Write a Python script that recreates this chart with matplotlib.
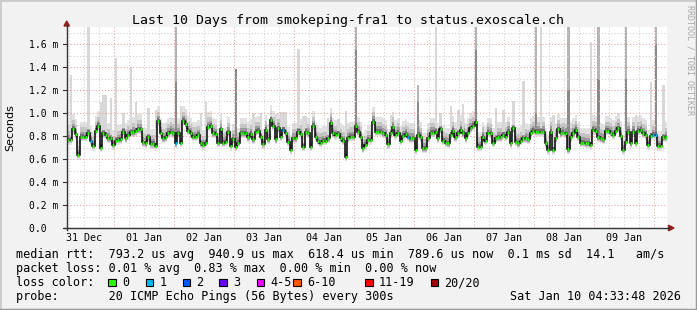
import matplotlib
matplotlib.use("Agg")
import matplotlib.pyplot as plt
import matplotlib.transforms as mtransforms
from matplotlib.lines import Line2D
from matplotlib.patches import Polygon, Rectangle
import numpy as np

W, H = 697, 310
MONO = "DejaVu Sans Mono"

# ====== DATA ======
title = "Last 10 Days from smokeping-fra1 to status.exoscale.ch"
start_day = 0.21          # days after 31 Dec 00:00 where the graph starts
day_labels = ["31 Dec", "01 Jan", "02 Jan", "03 Jan", "04 Jan",
              "05 Jan", "06 Jan", "07 Jan", "08 Jan", "09 Jan"]
y_ticks = [0.0, 0.2, 0.4, 0.6, 0.8, 1.0, 1.2, 1.4, 1.6]
y_labels = ["0.0  ", "0.2 m", "0.4 m", "0.6 m", "0.8 m", "1.0 m", "1.2 m", "1.4 m", "1.6 m"]

# hourly median rtt (ms)
median_ms = [
    0.765, 0.765, 0.861, 0.814, 0.635, 0.794, 0.794, 0.794, 0.829, 0.759,
    0.713, 0.846, 0.887, 0.699, 0.823, 0.809, 0.780, 0.780, 0.722, 0.759,
    0.765, 0.771, 0.838, 0.780, 0.809, 0.832, 0.832, 0.843, 0.858, 0.858,
    0.745, 0.736, 0.788, 0.730, 0.730, 0.713, 0.933, 0.829, 0.780, 0.788,
    0.823, 0.838, 0.823, 0.736, 0.823, 0.742, 0.933, 0.904, 0.846, 0.823,
    0.794, 0.794, 0.809, 0.736, 0.722, 0.742, 0.881, 0.887, 0.823, 0.817,
    0.742, 0.858, 0.742, 0.751, 0.832, 0.713, 0.771, 0.707, 0.742, 0.823,
    0.823, 0.823, 0.788, 0.817, 0.771, 0.838, 0.846, 0.794, 0.730, 0.852,
    0.771, 0.939, 0.887, 0.771, 0.867, 0.794, 0.852, 0.823, 0.751, 0.678,
    0.780, 0.780, 0.838, 0.817, 0.707, 0.838, 0.823, 0.707, 0.887, 0.794,
    0.759, 0.742, 0.759, 0.759, 0.780, 0.916, 0.823, 0.809, 0.817, 0.780,
    0.759, 0.620, 0.780, 0.794,
    0.794, 0.887, 0.838, 0.794, 0.693, 0.722, 0.765, 0.765, 0.925, 0.838,
    0.838, 0.838, 0.823, 0.809, 0.730, 0.823, 0.881, 0.809, 0.829, 0.759,
    0.800, 0.817, 0.794, 0.780, 0.780, 0.678, 0.809, 0.788, 0.693, 0.693,
    0.780, 0.829, 0.829, 0.838, 0.780, 0.858, 0.759, 0.742, 0.736, 0.809,
    0.846, 0.788, 0.823, 0.852, 0.823, 0.780, 0.823, 0.867, 0.887, 0.925,
    0.707, 0.707, 0.794, 0.759, 0.829, 0.823, 0.742, 0.780, 0.788, 0.788,
    0.809, 0.794, 0.838, 0.736, 0.867, 0.751, 0.736, 0.759, 0.780, 0.780,
    0.771, 0.823, 0.846, 0.838, 0.838, 0.838, 0.838, 0.736, 0.678, 0.838,
    0.678, 0.780, 0.858, 0.823, 0.829, 0.823, 0.684, 0.788, 0.823, 0.852,
    0.794, 0.742, 0.742, 0.736, 0.736, 0.722, 0.852, 0.846, 0.788, 0.780,
    0.771, 0.846, 0.846, 0.829, 0.809, 0.846, 0.867, 0.800, 0.678, 0.751,
    0.838, 0.736, 0.838, 0.742, 0.846, 0.852, 0.823, 0.809, 0.722, 0.800,
    0.809, 0.809, 0.713, 0.713, 0.788, 0.788,
]
# hours where 1 of 20 pings got lost
loss_hours = [9, 43, 86, 136, 234, 235]

# tall smoke columns: hour index, top (ms), top of darker lower part
spike_idx = [1, 8, 13, 14, 15, 17, 19, 22, 25, 27, 32, 35, 43, 45, 53, 55, 67,
             74, 77, 81, 83, 85, 86, 87, 92, 94, 95, 104, 108, 111, 115, 129,
             140, 147, 149, 153, 156, 158, 163, 171, 174, 178, 182, 187, 189,
             194, 200, 209, 212, 223, 227, 233, 235, 238]
spike_top = [1.33, 1.75, 1.10, 1.16, 1.16, 1.13, 1.48, 1.00, 1.40, 1.10, 1.04,
             1.03, 1.75, 1.06, 1.00, 1.10, 1.38, 1.00, 1.00, 1.02, 0.99, 1.01,
             1.01, 1.01, 1.56, 0.97, 0.97, 0.96, 0.95, 1.02, 1.75, 0.98, 1.24,
             1.75, 1.00, 1.06, 1.03, 1.08, 1.75, 1.04, 1.03, 1.10, 1.28, 1.75,
             1.75, 0.98, 1.75, 1.62, 1.75, 1.75, 0.98, 1.27, 1.75, 1.24]
spike_dark = {43: 1.27, 67: 1.38, 115: 1.55, 140: 1.10, 163: 1.55,
              187: 1.00, 200: 1.20, 212: 1.30, 223: 1.30, 235: 1.60}

rtt_avg, rtt_max, rtt_min, rtt_now, rtt_sd, am_s = 793.2, 940.9, 618.4, 789.6, 0.1, 14.1
loss_avg, loss_max, loss_min, loss_now = 0.01, 0.83, 0.00, 0.00
loss_labels = ["0", "1", "2", "3", "4-5", "6-10", "11-19", "20/20"]
loss_colors = ["#26ff00", "#00b8ff", "#0059ff", "#6a00ff", "#ee00ff", "#ff5500", "#ff0000", "#a10000"]
probe_text = "20 ICMP Echo Pings (56 Bytes) every 300s"
stamp = "Sat Jan 10 04:33:48 2026"


def fx(px):
    return px / W


def fy(py):
    return 1 - py / H


fig = plt.figure(figsize=(W / 100, H / 100), dpi=100, facecolor="#f2f2f2")
ax = fig.add_axes([fx(67), fy(228), 600 / W, 201.25 / H])
ax.set_facecolor("white")
ax.set_xlim(start_day, start_day + 10)
ax.set_ylim(0, 1.75)
for s in ax.spines.values():
    s.set_visible(False)
ax.set_xticks([])
ax.set_yticks([])

med = np.array(median_ms)
edges = start_day + np.arange(len(med) + 1) / 24

# smoke around the median
smoke_layers = [(-0.04, 0.13, "#e2e2e2"), (-0.03, 0.08, "#c4c4c4"),
                (-0.02, 0.045, "#9c9c9c"), (-0.012, 0.024, "#6e6e6e")]
for lo, hi, c in smoke_layers:
    ax.stairs(med + hi, edges, baseline=med + lo, fill=True, color=c, lw=0, zorder=1)

for i, top in zip(spike_idx, spike_top):
    base = med[i] + 0.03
    ax.bar(edges[i], top - base, width=1 / 24, bottom=base, align="edge",
           color="#d8d8d8" if i not in spike_dark else "#b4b4b4", lw=0, zorder=1.2)
    if i in spike_dark:
        ax.bar(edges[i], spike_dark[i] - base, width=1 / 24, bottom=base, align="edge",
               color="#8a8a8a", lw=0, zorder=1.3)

# grid
red = "#f2a0a0"
grey = "#cfcfcf"
dots = (0, (1, 2))
for k in range(int(start_day * 4) + 1, int((start_day + 10) * 4) + 1):
    t = k / 4
    ax.axvline(t, color=red if k % 4 == 0 else grey, ls=dots, lw=0.75, zorder=2)
for k in range(1, 18):
    ax.axhline(k / 10, color=red if k % 2 == 0 else grey, ls=dots, lw=0.75, zorder=2)

# median line coloured by loss
ax.stairs(med, edges, baseline=None, color="black", lw=1.1, zorder=3)
cols = [loss_colors[1] if i in loss_hours else loss_colors[0] for i in range(len(med))]
ax.hlines(med, edges[:-1] + 0.1 / 24, edges[1:] - 0.1 / 24, colors=cols, lw=2.0, zorder=4)

# axes with arrows
axis_c = "#333333"
arrow_c = "#961e1e"
fig.add_artist(Line2D([fx(66.5), fx(66.5)], [fy(230), fy(25)], color=axis_c, lw=1, transform=fig.transFigure))
fig.add_artist(Line2D([fx(64), fx(669)], [fy(228), fy(228)], color=axis_c, lw=1, transform=fig.transFigure))
fig.add_artist(Polygon([[fx(64), fy(26)], [fx(69.5), fy(26)], [fx(66.7), fy(21)]],
                       closed=True, color=arrow_c, transform=fig.transFigure))
fig.add_artist(Polygon([[fx(668.5), fy(225.2)], [fx(668.5), fy(230.8)], [fx(674), fy(228)]],
                       closed=True, color=arrow_c, transform=fig.transFigure))
for v in y_ticks:
    ax.plot([-0.006, 0], [v, v], transform=mtransforms.blended_transform_factory(ax.transAxes, ax.transData),
            color=axis_c, lw=0.8, clip_on=False)

# tick labels
tx = mtransforms.blended_transform_factory(ax.transData, fig.transFigure)
for i, lab in enumerate(day_labels):
    ax.text(i + 0.5, fy(240.7), lab, transform=tx, ha="center", va="baseline",
            fontsize=7.2, family=MONO)
ty = mtransforms.blended_transform_factory(fig.transFigure, ax.transData)
for v, lab in zip(y_ticks, y_labels):
    ax.text(fx(58.8), v, lab, transform=ty, ha="right", va="center_baseline",
            fontsize=7, family=MONO)

fig.text(fx(348), fy(24.3), title, ha="center", va="baseline", fontsize=9.5, family=MONO)
fig.text(fx(10.5), fy(127.5), "Seconds", rotation=90, ha="center", va="center",
         fontsize=8, family="DejaVu Sans")
fig.text(fx(690), fy(60), "RRDTOOL / TOBI OETIKER", rotation=270, ha="center", va="center",
         fontsize=6, family=MONO, color="#a8a8a8")

# legend
lg = dict(fontsize=8.5, family=MONO, va="baseline", ha="left")
line1 = (f"median rtt:  {rtt_avg:.1f} us avg  {rtt_max:.1f} us max  {rtt_min:.1f} us min  "
         f"{rtt_now:.1f} us now  {rtt_sd:.1f} ms sd  {am_s:.1f}   am/s")
line2 = f"packet loss: {loss_avg:.2f} % avg  {loss_max:.2f} % max  {loss_min:.2f} % min  {loss_now:.2f} % now"
fig.text(fx(16), fy(258.3), line1, **lg)
fig.text(fx(16), fy(272.3), line2, **lg)
fig.text(fx(16), fy(286.3), "loss color:", **lg)
box_x = [108.3, 145.7, 182.7, 219.3, 256.7, 293.3, 365.0, 430.7]
for bx, lab, c in zip(box_x, loss_labels, loss_colors):
    fig.add_artist(Rectangle((fx(bx), fy(286.3)), 7.5 / W, 7.7 / H, transform=fig.transFigure,
                             facecolor=c, edgecolor="black", lw=0.8))
    fig.text(fx(bx + 13.5), fy(286.3), lab, **lg)
fig.text(fx(16), fy(300.3), "probe:       " + probe_text, **lg)
fig.text(fx(680.5), fy(300.3), stamp, fontsize=8.5, family=MONO, va="baseline", ha="right")

# 3d border
fig.add_artist(Line2D([0, 0, 1], [0, 1, 1], color="#cbcbcb", lw=2, transform=fig.transFigure))
fig.add_artist(Line2D([0, 1, 1], [0, 0, 1], color="#999999", lw=2.5, transform=fig.transFigure))

fig.savefig("out.png", dpi=100, facecolor=fig.get_facecolor())
